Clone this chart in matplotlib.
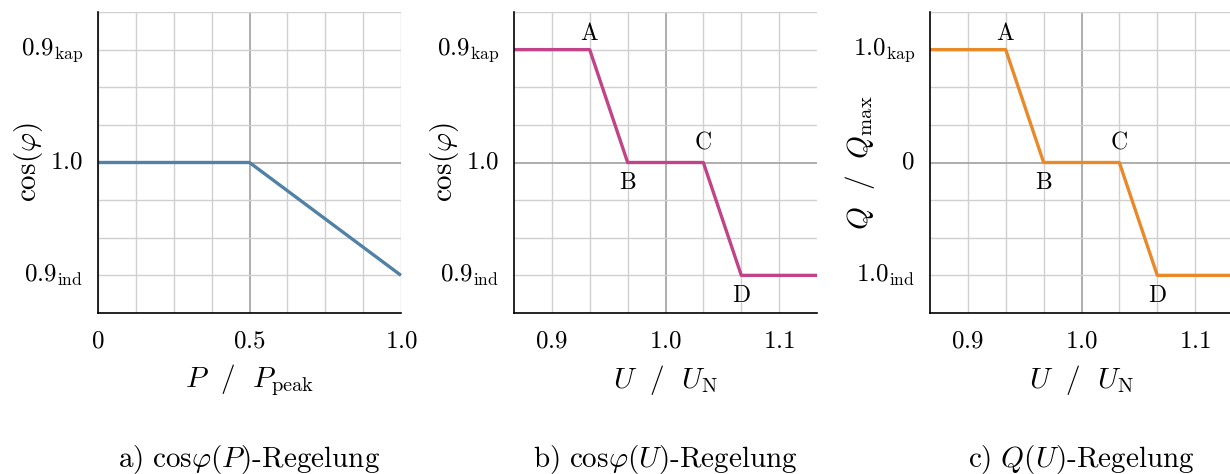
import matplotlib
matplotlib.use('Agg')
import matplotlib.pyplot as plt
from matplotlib.ticker import MultipleLocator

plt.rcParams['mathtext.fontset'] = 'cm'
plt.rcParams['font.family'] = 'serif'
plt.rcParams['font.serif'] = ['cmr10', 'DejaVu Serif']
plt.rcParams['axes.formatter.use_mathtext'] = True

# data (y: +3 = kap, 0 = neutral, -3 = ind)
p_x = [0.0, 0.5, 1.0]
p_y = [0, 0, -3]

u_x = [0.8667, 0.9333, 0.9667, 1.0333, 1.0667, 1.1333]
u_y = [3, 3, 0, 0, -3, -3]
pt_names = ['A', 'B', 'C', 'D']
pt_x = [0.9333, 0.9667, 1.0333, 1.0667]
pt_y = [3, 0, 0, -3]
pt_off = [11, -14.5, 14.5, -14.5]

ytick_pos = [3, 0, -3]
ylabels_cos = [r'$0.9_{\mathrm{kap}}$', r'$1.0$', r'$0.9_{\mathrm{ind}}$']
ylabels_q = [r'$1.0_{\mathrm{kap}}$', r'$0$', r'$1.0_{\mathrm{ind}}$']

blue = '#5182a6'
pink = '#c04487'
orange = '#e8892a'

fig = plt.figure(figsize=(12.3, 4.74), dpi=100)
W, H = 1230, 474


def make_ax(left):
    ax = fig.add_axes([left / W, (474 - 313) / H, 303 / W, 301 / H])
    ax.set_ylim(-4, 4)
    ax.yaxis.set_minor_locator(MultipleLocator(1))
    ax.grid(which='minor', color='#d0d0d0', lw=1.0)
    ax.grid(which='major', color='#a0a0a0', lw=1.2)
    ax.set_axisbelow(True)
    for s in ['top', 'right']:
        ax.spines[s].set_visible(False)
    for s in ['left', 'bottom']:
        ax.spines[s].set_linewidth(1.2)
    ax.tick_params(which='both', length=0)
    return ax


def ticks(ax, xs, xl, yl):
    for yv, lab in zip(ytick_pos, yl):
        ax.text(-0.05, yv, lab, transform=ax.get_yaxis_transform(), ha='right', va='center', fontsize=18)
    for xv, lab in zip(xs, xl):
        ax.text(xv, -0.095, r'$%s$' % lab, transform=ax.get_xaxis_transform(), ha='center', va='center', fontsize=18)


def labels(ax, left, xlab, ylab, title):
    cx = (left + 151.5) / W
    fig.text(cx, (474 - 380) / H, xlab, ha='center', va='center', fontsize=21)
    ax.text(-0.23, 0.5, ylab, transform=ax.transAxes, ha='center', va='center', rotation=90, fontsize=21)
    fig.text(cx, (474 - 459) / H, title, ha='center', va='center', fontsize=21)


# a) cos(phi)(P)
ax = make_ax(98)
ax.plot(p_x, p_y, color=blue, lw=2.4, clip_on=False, solid_capstyle='butt')
ax.set_xlim(0, 1)
ax.set_xticks([0.5])
ax.xaxis.set_minor_locator(MultipleLocator(0.125))
ax.set_yticks([0])
ax.set_xticklabels([])
ax.set_yticklabels([])
ticks(ax, [0, 0.5, 1.0], ['0', '0.5', '1.0'], ylabels_cos)
labels(ax, 98, r'$P\ \ /\ \ P_{\mathrm{peak}}$', r'$\mathrm{cos}(\varphi)$',
       r'$\mathrm{a)\ cos}\varphi(P)$' + '-Regelung')


def u_panel(left, color, ylabels, ylab, title):
    ax = make_ax(left)
    ax.plot(u_x, u_y, color=color, lw=2.4, clip_on=False, solid_capstyle='butt')
    ax.set_xlim(0.8667, 1.1333)
    ax.set_xticks([1.0])
    ax.xaxis.set_minor_locator(MultipleLocator(1 / 30))
    ax.set_yticks([0])
    ax.set_xticklabels([])
    ax.set_yticklabels([])
    ticks(ax, [0.9, 1.0, 1.1], ['0.9', '1.0', '1.1'], ylabels)
    for n, xv, yv, o in zip(pt_names, pt_x, pt_y, pt_off):
        ax.annotate(r'$\mathrm{%s}$' % n, (xv, yv), xytext=(0, o), textcoords='offset points',
                    ha='center', va='center', fontsize=17)
    labels(ax, left, r'$U\ \ /\ \ U_{\mathrm{N}}$', ylab, title)
    return ax


u_panel(514, pink, ylabels_cos, r'$\mathrm{cos}(\varphi)$', r'$\mathrm{b)\ cos}\varphi(U)$' + '-Regelung')
u_panel(930, orange, ylabels_q, r'$Q\ \ /\ \ Q_{\mathrm{max}}$', r'$\mathrm{c)}\ Q(U)$' + '-Regelung')

fig.savefig('out.png', dpi=100)
